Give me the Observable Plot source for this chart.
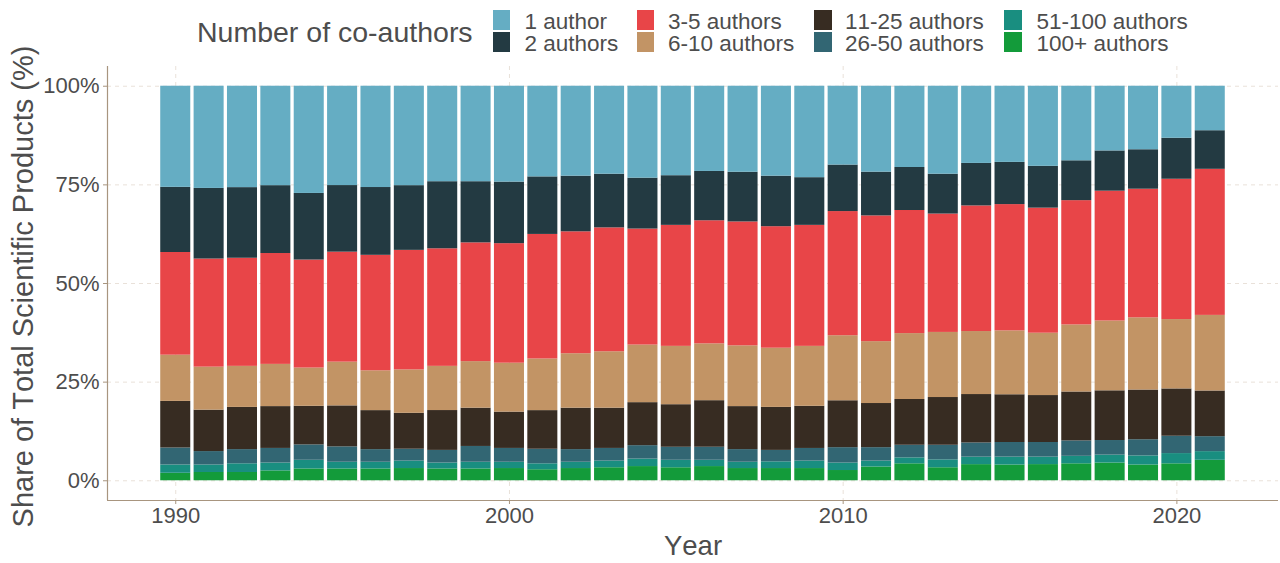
<!DOCTYPE html>
<html><head><meta charset="utf-8">
<script src="https://cdn.jsdelivr.net/npm/d3@7"></script>
<script src="https://cdn.jsdelivr.net/npm/@observablehq/plot@0.6"></script>
<style>
body{margin:0;background:#fff;font-family:"Liberation Sans",Arial,sans-serif;color:#4d4d4d;font-kerning:none;}
svg text{font-kerning:none;}
#legend{position:relative;height:60px;width:1280px;overflow:hidden;}
#legend .t{position:absolute;font-size:28.5px;line-height:28px;white-space:nowrap;}
#legend .k{position:absolute;width:17.5px;height:19.5px;}
#legend .l{position:absolute;font-size:22.5px;line-height:20px;white-space:nowrap;}
</style></head><body>
<div id="legend"></div><div id="chart"></div>
<script>
const years = [1990,1991,1992,1993,1994,1995,1996,1997,1998,1999,2000,2001,2002,2003,2004,2005,2006,2007,2008,2009,2010,2011,2012,2013,2014,2015,2016,2017,2018,2019,2020,2021];
// legend order (top of stack first)
const groups = ["1 author","2 authors","3-5 authors","6-10 authors","11-25 authors","26-50 authors","51-100 authors","100+ authors"];
const colors = ["#65adc3","#233a42","#e84548","#c29465","#372c22","#326673","#198e80","#139b3a"];
// shares (%) per year
const a1   = [25.6,25.9,25.7,25.2,27.2,25.2,25.7,25.2,24.2,24.2,24.3,23.0,22.8,22.3,23.3,22.7,21.6,21.8,22.8,23.2,20.0,21.8,20.6,22.3,19.6,19.3,20.3,18.9,16.4,16.1,13.2,11.3];
const a2   = [16.5,17.9,17.9,17.2,16.9,16.9,17.2,16.4,17.0,15.5,15.6,14.6,14.1,13.6,12.9,12.6,12.5,12.6,12.8,12.1,11.8,11.1,10.9,10.1,10.8,10.7,10.6,10.1,10.2,10.0,10.4,9.8];
const a3   = [26.0,27.4,27.4,28.1,27.4,27.9,29.3,30.3,29.8,30.1,30.3,31.6,30.9,31.4,29.4,30.7,31.2,31.4,30.8,30.7,31.5,31.9,31.2,30.0,31.9,32.0,31.7,31.5,32.9,32.6,35.6,37.1];
const a6   = [11.7,10.9,10.4,10.7,9.7,11.1,10.1,11.0,11.2,11.8,12.4,13.1,13.8,14.3,14.6,14.8,14.4,15.4,15.0,15.2,16.5,15.7,16.7,16.5,16.0,16.2,15.8,17.0,17.7,18.3,17.6,19.2];
const a11  = [11.8,10.5,10.7,10.6,9.8,10.4,9.9,9.1,10.1,9.7,9.2,9.8,10.5,10.2,10.9,10.8,11.8,10.9,10.9,10.7,11.9,11.2,11.6,12.1,12.3,12.1,11.9,12.4,12.6,12.6,12.0,11.6];
const a26  = [4.3,3.4,3.6,3.7,3.9,3.9,3.2,3.0,3.2,4.0,3.5,3.7,3.2,3.2,3.4,3.3,3.3,3.2,2.9,3.2,3.9,3.4,3.2,3.7,3.6,3.7,3.7,3.9,3.7,4.1,4.4,3.8];
const a51  = [2.1,1.9,2.2,2.0,2.2,1.7,1.7,1.9,1.5,1.7,1.6,1.5,1.6,1.7,1.9,1.9,1.6,1.6,1.7,1.9,1.9,1.5,1.5,2.0,1.9,2.0,1.9,1.9,2.0,2.3,2.6,2.2];
const a100 = [1.9,2.1,2.1,2.5,3.0,3.0,3.0,3.1,3.0,3.0,3.1,2.8,3.1,3.3,3.6,3.3,3.6,3.1,3.1,3.1,2.6,3.5,4.3,3.3,4.1,4.0,4.1,4.3,4.5,4.0,4.3,5.2];
const yTicks = [0,25,50,75,100];
const xTicks = [1990,2000,2010,2020];
const xTitle = "Year";
const yTitle = "Share of Total Scientific Products (%)";
const legendTitle = "Number of co-authors";

// build stacked table (bottom = 100+ authors), normalised to 100%
const seriesByGroup = [a1,a2,a3,a6,a11,a26,a51,a100];
const rows = [];
years.forEach((yr,i)=>{
  const vals = seriesByGroup.map(s=>s[i]);
  const total = d3.sum(vals);
  let cum = 0;
  for (let g = groups.length-1; g >= 0; g--) {
    const v = vals[g]/total*100;
    rows.push({year:yr, group:groups[g], x1:yr-0.45, x2:yr+0.45, y1:cum, y2:cum+v});
    cum += v;
  }
});

// legend (HTML, above the SVG)
const leg = document.getElementById("legend");
const lt = document.createElement("div"); lt.className="t"; lt.textContent=legendTitle;
lt.style.left="197px"; lt.style.top="18px"; leg.appendChild(lt);
const colKey = [492.5,636.7,814.3,1004], colLab = [524.5,668,845,1036.5], rowTop = [10,32.3];
groups.forEach((g,i)=>{
  const c = Math.floor(i/2), r = i%2;
  const k = document.createElement("div"); k.className="k";
  k.style.left=colKey[c]+"px"; k.style.top=rowTop[r]+"px"; k.style.background=colors[i];
  leg.appendChild(k);
  const l = document.createElement("div"); l.className="l"; l.textContent=g;
  l.style.left=colLab[c]+"px"; l.style.top=(rowTop[r]+1.5)+"px";
  leg.appendChild(l);
});

const xDom = [1987.955, 2023.045], yDom = [-5,105];
const axisCol = "#a8957f", gridCol = "#e9e1d9", textCol = "#4d4d4d";
const chart = Plot.plot({
  width:1280, height:503,
  marginLeft:107, marginRight:2, marginTop:6, marginBottom:63,
  style:{fontFamily:"'Liberation Sans', Arial, sans-serif", fontSize:"22px", color:textCol, background:"#fff", overflow:"visible"},
  x:{domain:xDom},
  y:{domain:yDom},
  color:{domain:groups, range:colors},
  marks:[
    Plot.gridY(yTicks,{stroke:gridCol, strokeOpacity:1, strokeDasharray:"4,4"}),
    Plot.gridX(xTicks,{stroke:gridCol, strokeOpacity:1, strokeDasharray:"4,4"}),
    Plot.rect(rows,{x1:"x1",x2:"x2",y1:"y1",y2:"y2",fill:"group"}),
    Plot.axisX(xTicks,{tickSize:4, tickPadding:3, stroke:axisCol, fill:textCol, fontSize:22, label:null, tickFormat:d=>String(d)}),
    Plot.axisY(yTicks,{tickSize:4, tickPadding:4, stroke:axisCol, fill:textCol, fontSize:22, label:null, tickFormat:d=>d+"%"}),
    Plot.ruleY([yDom[0]],{stroke:axisCol, strokeWidth:1.2}),
    Plot.ruleX([xDom[0]],{stroke:axisCol, strokeWidth:1.2}),
    Plot.text([xTitle],{text:d=>d, frameAnchor:"bottom", lineAnchor:"middle", textAnchor:"middle", dy:46, fontSize:27.5, fill:textCol}),
    Plot.text([yTitle],{text:d=>d, frameAnchor:"left", lineAnchor:"middle", textAnchor:"middle", rotate:-90, dx:-84, dy:3, fontSize:29, fill:textCol})
  ]
});
document.getElementById("chart").appendChild(chart);
</script></body></html>
